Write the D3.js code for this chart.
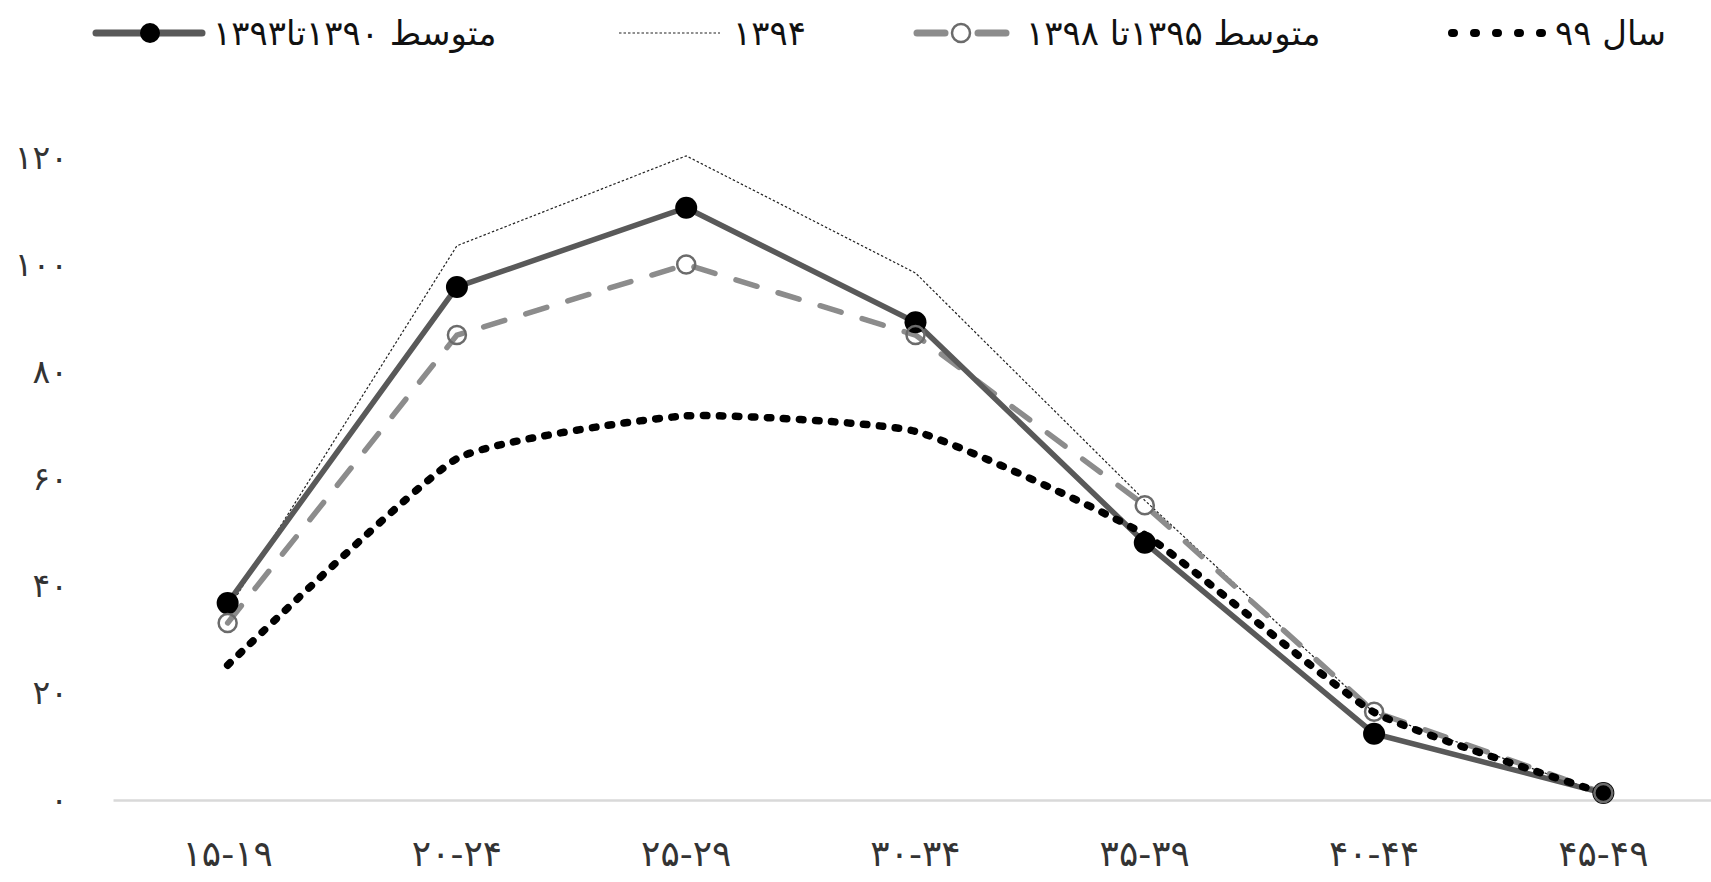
<!DOCTYPE html>
<html lang="fa">
	<head>
		<meta charset="utf-8">
		<title>fertility by age</title>
		<script src="https://d3js.org/d3.v7.min.js"></script>
		<style>
			body { margin: 0; background: #fff; }
			text { font-family: "DejaVu Sans", sans-serif; }
			.tick text { fill: #333; font-size: 33px; }
		</style>
	</head>
	<body>
		<div id="chart"></div>
		<script type="text/javascript">

			// age groups (x) and tick labels
			var ageGroups = ["۱۵-۱۹", "۲۰-۲۴", "۲۵-۲۹", "۳۰-۳۴", "۳۵-۳۹", "۴۰-۴۴", "۴۵-۴۹"];
			var yTicks = [0, 20, 40, 60, 80, 100, 120];
			var yTickLabels = ["۰", "۲۰", "۴۰", "۶۰", "۸۰", "۱۰۰", "۱۲۰"];

			// series values
			var avg1390to1393 = [36.8, 95.9, 110.7, 89.3, 48.1, 12.4, 1.3];
			var year1394 = [35.5, 103.6, 120.4, 98.5, 56.0, 16.3, 1.2];
			var avg1395to1398 = [33.1, 86.9, 100.1, 86.9, 55.1, 16.5, 1.3];
			var year99 = [25.2, 63.8, 71.8, 68.9, 49.6, 16.4, 1.3];

			var seriesNames = ["متوسط ۱۳۹۰تا۱۳۹۳", "۱۳۹۴", "متوسط ۱۳۹۵تا ۱۳۹۸", "سال ۹۹"];

			var width = 1711,
				height = 882;

			var svg = d3.select("#chart")
				.append("svg")
				.attr("width", width)
				.attr("height", height);

			// scales
			var xScale = d3.scaleBand()
				.domain(ageGroups)
				.range([113, 1718]);

			var yScale = d3.scaleLinear()
				.domain([0, 120])
				.range([800, 158]);

			// x axis: light baseline, no ticks
			var xAxis = svg.append("g")
				.attr("transform", "translate(0," + yScale(0) + ")")
				.call(d3.axisBottom(xScale).tickSize(0).tickPadding(40).tickSizeOuter(0));
			xAxis.select(".domain")
				.attr("stroke", "#d9d9d9")
				.attr("stroke-width", 2.5);
			xAxis.selectAll(".tick text").style("font-size", "36px");

			// y axis: labels only
			var yAxis = svg.append("g")
				.attr("transform", "translate(68,0)")
				.call(d3.axisLeft(yScale)
					.tickValues(yTicks)
					.tickFormat(function(d, i) { return yTickLabels[i]; })
					.tickSize(0)
					.tickPadding(0));
			yAxis.select(".domain").remove();

			var xc = function(d, i) { return xScale(ageGroups[i]) + xScale.bandwidth() / 2; };

			var straight = d3.line()
				.x(xc)
				.y(function(d) { return yScale(d); });

			var smooth = d3.line()
				.x(xc)
				.y(function(d) { return yScale(d); })
				.curve(d3.curveCardinal.tension(0.55));

			// 1394 thin dotted
			svg.append("path")
				.datum(year1394)
				.attr("d", straight)
				.attr("fill", "none")
				.attr("stroke", "#222")
				.attr("stroke-width", 1.2)
				.attr("stroke-dasharray", "2.5,2");

			// 1395-1398 gray dashed
			svg.append("path")
				.datum(avg1395to1398)
				.attr("d", straight)
				.attr("fill", "none")
				.attr("stroke", "#8c8c8c")
				.attr("stroke-width", 5.5)
				.attr("stroke-linecap", "round")
				.attr("stroke-dasharray", "22,22");

			// 1390-1393 solid
			svg.append("path")
				.datum(avg1390to1393)
				.attr("d", straight)
				.attr("fill", "none")
				.attr("stroke", "#595959")
				.attr("stroke-width", 5.5);

			// year 99 round dots, smoothed
			svg.append("path")
				.datum(year99)
				.attr("d", smooth)
				.attr("fill", "none")
				.attr("stroke", "#000")
				.attr("stroke-width", 7.5)
				.attr("stroke-linecap", "round")
				.attr("stroke-dasharray", "3.5,12.5");

			// markers
			svg.selectAll(".dotA")
				.data(avg1390to1393)
				.enter()
				.append("circle")
				.attr("class", "dotA")
				.attr("cx", xc)
				.attr("cy", function(d) { return yScale(d); })
				.attr("r", 11)
				.attr("fill", "#000");

			svg.selectAll(".dotC")
				.data(avg1395to1398)
				.enter()
				.append("circle")
				.attr("class", "dotC")
				.attr("cx", xc)
				.attr("cy", function(d) { return yScale(d); })
				.attr("r", 9)
				.attr("fill", "none")
				.attr("stroke", "#6b6b6b")
				.attr("stroke-width", 2.5);

			// legend
			var legend = svg.append("g").attr("class", "legend");
			var ly = 33;

			// item 1
			legend.append("line")
				.attr("x1", 96).attr("x2", 202).attr("y1", ly).attr("y2", ly)
				.attr("stroke", "#595959").attr("stroke-width", 7).attr("stroke-linecap", "round");
			legend.append("circle")
				.attr("cx", 150).attr("cy", ly).attr("r", 10).attr("fill", "#000");

			// item 2
			legend.append("line")
				.attr("x1", 619).attr("x2", 720).attr("y1", ly).attr("y2", ly)
				.attr("stroke", "#222").attr("stroke-width", 1.2).attr("stroke-dasharray", "2.5,2");

			// item 3
			legend.append("line")
				.attr("x1", 917).attr("x2", 945).attr("y1", ly).attr("y2", ly)
				.attr("stroke", "#8c8c8c").attr("stroke-width", 7).attr("stroke-linecap", "round");
			legend.append("line")
				.attr("x1", 978).attr("x2", 1006).attr("y1", ly).attr("y2", ly)
				.attr("stroke", "#8c8c8c").attr("stroke-width", 7).attr("stroke-linecap", "round");
			legend.append("circle")
				.attr("cx", 961).attr("cy", ly).attr("r", 9)
				.attr("fill", "#fff").attr("stroke", "#6b6b6b").attr("stroke-width", 2.5);

			// item 4
			legend.append("line")
				.attr("x1", 1452).attr("x2", 1542).attr("y1", ly).attr("y2", ly)
				.attr("stroke", "#000").attr("stroke-width", 8).attr("stroke-linecap", "round")
				.attr("stroke-dasharray", "2,20");

			var legendX = [213, 733, 1026, 1555];
			legend.selectAll("text")
				.data(seriesNames)
				.enter()
				.append("text")
				.attr("x", function(d, i) { return legendX[i]; })
				.attr("y", ly)
				.attr("dy", "0.35em")
				.style("font-size", "34px")
				.attr("fill", "#111")
				.text(function(d) { return d; });

		</script>
	</body>
</html>
